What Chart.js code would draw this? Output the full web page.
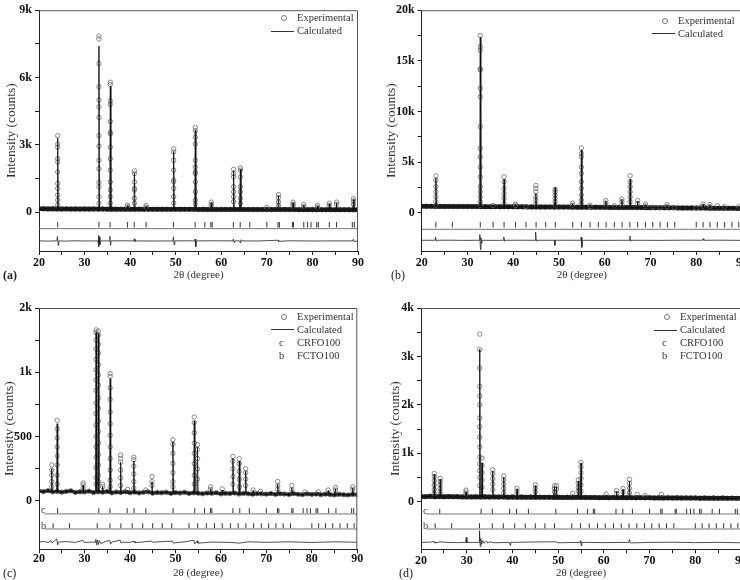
<!DOCTYPE html>
<html>
<head>
<meta charset="utf-8">
<script src="https://cdn.jsdelivr.net/npm/chart.js@4.4.1/dist/chart.umd.min.js"></script>
<style>
  html, body { margin: 0; padding: 0; background: #fff; overflow: hidden; }
  body { width: 740px; height: 580px; position: relative; font-family: 'Liberation Serif', serif; }
  .panel { position: absolute; width: 370px; height: 290px; }
  .wide { width: 390px; }
  .tag { position: absolute; font-size: 12px; color: #222; line-height: 14px; }
  .legend { position: absolute; font-size: 10.5px; color: #333; }
  .legend div { position: relative; height: 13px; line-height: 13px; padding-left: 27px; white-space: nowrap; }
  .legend .dot { position: absolute; left: 11px; top: 4px; width: 4px; height: 4px; border: 0.8px solid #777; border-radius: 50%; }
  .legend .ln { position: absolute; left: 1px; top: 6.5px; width: 23px; border-top: 1px solid #333; }
  .legend .let { position: absolute; left: 9px; top: 0; }
</style>
</head>
<body>
<div class="panel" style="left:0;top:0"><canvas id="ca"></canvas></div>
<div class="panel wide" style="left:370px;top:0"><canvas id="cb"></canvas></div>
<div class="panel" style="left:0;top:290px"><canvas id="cc"></canvas></div>
<div class="panel wide" style="left:370px;top:290px"><canvas id="cd"></canvas></div>

<div class="tag" style="left:3px;top:268px;font-weight:bold">(a)</div>
<div class="tag" style="left:391px;top:268px">(b)</div>
<div class="tag" style="left:3px;top:566px">(c)</div>
<div class="tag" style="left:399px;top:566px">(d)</div>

<div class="legend" style="left:270px;top:11px">
  <div><span class="dot"></span>Experimental</div>
  <div><span class="ln"></span>Calculated</div>
</div>
<div class="legend" style="left:651px;top:13.5px">
  <div><span class="dot"></span>Experimental</div>
  <div><span class="ln"></span>Calculated</div>
</div>
<div class="legend" style="left:270px;top:309.5px">
  <div><span class="dot"></span>Experimental</div>
  <div><span class="ln"></span>Calculated</div>
  <div><span class="let">c</span>CRFO100</div>
  <div><span class="let">b</span>FCTO100</div>
</div>
<div class="legend" style="left:653px;top:310px">
  <div><span class="dot"></span>Experimental</div>
  <div><span class="ln"></span>Calculated</div>
  <div><span class="let">c</span>CRFO100</div>
  <div><span class="let">b</span>FCTO100</div>
</div>

<script>
// x axis ticks
const xTicks = [20, 25, 30, 35, 40, 45, 50, 55, 60, 65, 70, 75, 80, 85, 90];
const xLabels = ['20', '', '30', '', '40', '', '50', '', '60', '', '70', '', '80', '', '90'];

// background samples, one per degree 20..90
const degs = [];
for (let d = 20; d <= 90; d++) degs.push(d);

const bgA = [150,148,146,150,145,142,144,140,142,138,
             140,137,139,136,138,134,136,133,135,132,
             134,131,133,130,132,129,131,128,130,127,
             129,126,128,125,127,124,126,123,125,122,
             124,121,123,120,122,119,121,118,120,117,
             119,116,118,115,117,114,116,113,115,112,
             114,111,113,110,112,109,111,108,110,107,109];
const bgB = [640,630,635,625,628,620,622,615,618,610,
             612,605,608,600,603,596,598,590,594,588,
             585,580,583,575,578,570,572,566,568,560,
             562,555,558,550,552,545,548,540,542,535,
             530,525,528,520,515,518,510,505,508,500,
             495,490,493,485,480,484,476,470,473,466,
             460,455,458,450,445,448,440,436,438,430,425];
const bgC = [78,72,80,70,75,68,74,79,66,72,
             70,76,65,71,68,74,63,70,66,72,
             64,69,62,67,71,60,66,63,68,59,
             65,61,67,58,63,60,56,62,59,64,
             55,60,57,62,54,59,56,52,58,55,
             53,58,51,56,54,50,57,52,49,55,
             51,54,48,53,50,47,52,49,46,51,48];
const bgD = [108,104,110,102,106,100,105,101,103,99,
             102,98,101,97,100,96,99,95,98,94,
             97,93,96,92,95,91,94,90,93,89,
             92,88,91,87,90,86,89,85,88,84,
             87,83,86,82,85,81,84,80,83,79,
             82,78,81,77,80,76,79,75,78,74,
             77,73,76,72,75,71,74,70,73,69,72];

// peaks: [2theta, calculated top, experimental points down the peak]
const peaksA = [
  [24.1, 3300, [3410,3040,2900,2380,2240,1790,1280,1060,760,540,320]],
  [33.15, 7400, [7850,7720,6620,5590,4990,4690,4220,3410,2940,2310,1940,1320,1130,690,400]],
  [35.65, 5600, [5790,5690,4960,4810,4040,3560,3490,2900,2380,1870,1350,990,690,400]],
  [39.4, 290, [320,250]],
  [40.95, 1750, [1840,1720,1350,1060,990,620,400]],
  [43.5, 260, [290,220]],
  [49.55, 2700, [2820,2680,2310,1870,1430,1350,1060,690,400]],
  [54.3, 3650, [3780,3630,3340,3040,2310,2010,1790,1720,1350,910,540,370]],
  [57.8, 420, [450,350,250]],
  [62.7, 1850, [1910,1720,1570,1130,910,690,470]],
  [64.2, 1900, [1970,1870,1570,1130,910,620,400]],
  [70.0, 190, [210]],
  [72.55, 730, [780,650,450,300]],
  [75.75, 420, [450,350,250]],
  [78.1, 320, [350,250]],
  [81.1, 280, [300,220]],
  [83.7, 370, [400,300]],
  [85.3, 420, [450,350]],
  [89.0, 560, [600,500,350]]
];
const peaksB = [
  [23.1, 3400, [3650,3220,2570,2070,1580,1090,760]],
  [32.8, 17300, [17500,16400,16050,14200,14100,12300,11450,8500,6350,5500,4500,3550,2550,2070,1580,1090,760]],
  [35.6, 700, [720]],
  [38.0, 3300, [3550,3060,2400,1900,1410,920]],
  [40.5, 800, [850,700]],
  [42.8, 600, [620]],
  [44.95, 1900, [2700,2400,2070,1580,1250,850]],
  [49.15, 2500, [2300,2070,1740,1410,1090,760]],
  [52.95, 900, [950,750]],
  [54.9, 6200, [6400,5860,5500,4500,3880,3060,2400,1740,1250,850]],
  [56.8, 700, [750,600]],
  [60.25, 1150, [1200,950,700]],
  [62.1, 650, [700]],
  [63.75, 1300, [1350,1100,800]],
  [65.55, 3300, [3650,3060,2570,2070,1580,1090]],
  [67.2, 1150, [1200,900]],
  [68.9, 800, [850,650]],
  [70.5, 520, [550]],
  [72.1, 480, [500]],
  [73.6, 760, [800,600]],
  [75.3, 480, [500]],
  [80.0, 430, [450]],
  [81.5, 820, [850,650]],
  [83.0, 760, [800,600]],
  [84.6, 650, [700]],
  [86.2, 570, [600]],
  [89.3, 570, [600]]
];
const peaksC = [
  [22.8, 250, [280,240,200,150,110]],
  [24.0, 600, [627,560,490,420,350,280,200,130]],
  [29.7, 120, [140,125,100]],
  [32.55, 1310, [1330,1310,1250,1180,1100,1020,940,860,760,680,590,500,420,340,260,180,130]],
  [33.05, 1300, [1320,1290,1220,1150,1060,980,900,800,720,620,540,450,360,280,200,150]],
  [34.0, 110, [130,110]],
  [35.65, 950, [990,970,880,790,690,600,510,420,330,240,160,110]],
  [37.95, 300, [356,330,300,240,180,120]],
  [39.5, 85, [90]],
  [40.85, 310, [340,320,270,210,150,100]],
  [43.5, 80, [85]],
  [44.85, 150, [190,150,120]],
  [49.45, 460, [476,440,370,290,220,150,110]],
  [54.15, 620, [653,610,530,450,370,290,200,130]],
  [54.85, 420, [437,400,330,250,170]],
  [57.75, 95, [109,90]],
  [60.3, 85, [94]],
  [62.65, 330, [346,310,250,190,130]],
  [64.05, 310, [328,290,230,170,110]],
  [65.45, 230, [250,220,170,120]],
  [67.1, 80, [85]],
  [68.7, 70, [75]],
  [72.5, 130, [151,120,90]],
  [75.6, 100, [120,90]],
  [78.5, 65, [70]],
  [81.4, 65, [72]],
  [83.6, 80, [85]],
  [85.2, 95, [105,85]],
  [89.0, 100, [110,90]]
];
const peaksD = [
  [22.9, 560, [585,520,430,340,250,170]],
  [24.2, 460, [480,420,350,270,190]],
  [29.85, 200, [240,200,160]],
  [32.85, 3150, [3460,3140,2760,2380,2180,2000,1730,1550,1330,1130,920,780,640,500,330]],
  [33.35, 800, [900,750,600,450,300]],
  [35.7, 630, [660,580,470,360,250]],
  [38.1, 500, [530,450,360,270,180]],
  [41.0, 260, [280,220,160]],
  [45.0, 330, [350,280,200]],
  [49.2, 310, [330,270,200]],
  [49.65, 300, [330,260]],
  [53.2, 150, [170]],
  [54.4, 420, [450,380,300,220]],
  [55.0, 800, [810,720,600,480,350,220]],
  [60.5, 140, [160]],
  [62.8, 210, [230,170]],
  [64.2, 250, [270,200]],
  [65.6, 420, [460,380,280,180]],
  [67.3, 130, [150]],
  [69.0, 120, [130]],
  [72.6, 130, [150]]
];

// Bragg positions
const braggCRFO = [24.1, 33.15, 35.6, 39.4, 40.9, 43.5, 49.5, 54.25, 56.4, 57.7, 58.0, 62.65, 64.15, 66.25,
                   70.0, 72.45, 72.75, 75.6, 75.85, 78.1, 78.95, 79.7, 80.95, 81.3, 83.7, 85.3, 88.75, 89.2];
const braggFCTO = [23.1, 26.7, 32.8, 35.6, 38.0, 40.5, 42.8, 45.0, 47.1, 49.2, 53.0, 54.9, 56.8, 58.6, 60.3,
                   62.1, 63.8, 65.5, 67.2, 68.9, 70.5, 72.1, 73.7, 75.3, 80.0, 81.5, 83.0, 84.6, 86.2, 87.8, 89.3];

// difference curves (obs - calc, offset)
const diffA = [[20,-1280],[22,-1290],[23.9,-1275],[24.05,-1080],[24.2,-1480],[24.35,-1280],[26,-1290],[28,-1275],
  [30,-1285],[32.95,-1280],[33.05,-1030],[33.15,-1540],[33.25,-1100],[33.35,-1450],[33.5,-1280],[35.45,-1280],
  [35.55,-1080],[35.7,-1480],[35.85,-1280],[38,-1275],[40.8,-1280],[40.9,-1190],[41.05,-1310],[41.2,-1280],[45,-1285],
  [49.4,-1280],[49.5,-1100],[49.65,-1450],[49.8,-1280],[52,-1275],[54.15,-1280],[54.25,-1200],[54.4,-1540],[54.55,-1280],
  [58,-1275],[62.55,-1280],[62.65,-1200],[62.8,-1350],[62.95,-1280],[64.05,-1280],[64.15,-1360],[64.3,-1230],
  [64.45,-1280],[68,-1285],[72.5,-1250],[72.6,-1300],[75,-1275],[80,-1285],[85,-1280],[88.9,-1280],[89.0,-1200],
  [89.15,-1310],[90,-1280]];
const diffB = [[20,-2720],[22.9,-2720],[23.05,-2420],[23.2,-2820],[23.35,-2720],[26,-2710],[29,-2730],[32.6,-2720],
  [32.7,-2150],[32.85,-3650],[32.95,-2450],[33.1,-3050],[33.25,-2720],[36,-2730],[37.85,-2720],[37.95,-2400],[38.1,-2820],
  [38.25,-2720],[42,-2715],[44.8,-2720],[44.9,-1920],[45.05,-2820],[45.2,-2720],[48.95,-2720],[49.1,-3220],[49.25,-2680],
  [49.4,-2720],[52,-2715],[54.75,-2720],[54.85,-2420],[55.0,-3420],[55.15,-2720],[60,-2730],[65.4,-2720],[65.5,-2300],
  [65.65,-2820],[65.8,-2720],[72,-2730],[78,-2710],[81.35,-2720],[81.5,-2570],[81.65,-2720],[85,-2710],[90,-2730]];
const diffC = [[20,-320],[21,-315],[22,-323],[22.7,-310],[22.9,-327],[23.9,-295],[24.1,-342],[24.3,-320],[26,-316],
  [28,-323],[29.6,-305],[29.9,-322],[32.4,-320],[32.5,-300],[32.65,-342],[32.85,-305],[33.05,-340],[33.25,-308],
  [33.6,-332],[34.5,-318],[35.55,-306],[35.75,-336],[36,-320],[37.85,-305],[38.05,-328],[38.3,-320],[40,-322],
  [40.9,-313],[41.1,-325],[44.8,-312],[45,-321],[49.35,-312],[49.55,-327],[52,-318],[54.05,-305],[54.25,-333],
  [54.75,-310],[54.95,-328],[58,-320],[62,-322],[64,-328],[66,-318],[70,-322],[75,-318],[80,-323],[85,-318],[90,-321]];
const diffD = [[20,-840],[22,-835],[22.85,-825],[23.05,-852],[24.15,-830],[26,-842],[28,-845],[29.75,-840],[29.9,-740],
  [30.05,-852],[30.25,-840],[32.7,-840],[32.8,-600],[32.95,-925],[33.1,-760],[33.25,-880],[33.5,-805],[33.8,-860],
  [34.3,-810],[34.6,-855],[35,-830],[36,-848],[39.35,-840],[39.5,-900],[39.65,-840],[42,-837],[45,-832],[49.4,-828],
  [50,-848],[54.85,-840],[54.95,-805],[55.05,-910],[55.2,-840],[60,-845],[65.45,-840],[65.6,-780],[65.75,-852],
  [70,-840],[75,-837],[80,-845],[85,-840],[90,-848]];

// y axis ticks
const yTicksA = [0, 1500, 3000, 4500, 6000, 7500, 9000];
const yLabelsA = ['0', '', '3k', '', '6k', '', '9k'];
const yTicksB = [0, 2500, 5000, 7500, 10000, 12500, 15000, 17500, 20000];
const yLabelsB = ['0', '', '5k', '', '10k', '', '15k', '', '20k'];
const yTicksC = [0, 250, 500, 750, 1000, 1250, 1500];
const yLabelsC = ['0', '', '500', '', '1k', '', '2k'];
const yTicksD = [0, 500, 1000, 1500, 2000, 2500, 3000, 3500, 4000];
const yLabelsD = ['0', '', '1k', '', '2k', '', '3k', '', '4k'];

Chart.defaults.font.family = "'Liberation Serif', serif";

function peakPoints(peaks) {
  const pts = [];
  peaks.forEach(p => p[2].forEach(h => pts.push({x: p[0], y: h})));
  return pts;
}

function calcLine(bg, peaks) {
  const pts = [];
  degs.forEach((d, i) => {
    if (!peaks.some(p => Math.abs(p[0] - d) < 0.2)) pts.push({x: d, y: bg[i]});
  });
  peaks.forEach(p => {
    const b = bg[Math.round(p[0]) - 20];
    pts.push({x: p[0] - 0.12, y: b}, {x: p[0], y: p[1]}, {x: p[0] + 0.12, y: b});
  });
  return pts.sort((a, b) => a.x - b.x);
}

const framePlugin = {
  id: 'frame',
  afterDraw(chart, args, opts) {
    const {ctx, chartArea: a, scales} = chart;
    ctx.save();
    ctx.strokeStyle = '#555';
    ctx.lineWidth = 1;
    ctx.beginPath();
    ctx.moveTo(a.left, a.top + 0.5);
    ctx.lineTo(a.right - 0.5, a.top + 0.5);
    ctx.lineTo(a.right - 0.5, a.bottom);
    ctx.stroke();
    ctx.fillStyle = '#444';
    ctx.font = "10.5px 'Liberation Serif'";
    ctx.textBaseline = 'middle';
    (opts.tags || []).forEach(t => {
      ctx.fillText(t.text, a.left + 2, scales.y.getPixelForValue(t.y));
    });
    ctx.restore();
  }
};

function panel(id, o) {
  const tickFont = {size: 12, weight: 'bold'};
  const bgPts = degs.map((d, i) => ({x: d, y: o.bg[i]}));
  const datasets = [
    {data: calcLine(o.bg, o.peaks), showLine: true, borderColor: '#111', borderWidth: 0.9, pointRadius: 0},
    {data: peakPoints(o.peaks), showLine: false, pointStyle: 'circle', pointRadius: 2.2,
     borderColor: '#6e6e6e', borderWidth: 0.8, backgroundColor: 'rgba(0,0,0,0)'},
    {data: bgPts, showLine: false, pointStyle: 'circle', pointRadius: 2.2,
     borderColor: o.bgRing, borderWidth: 0.8, backgroundColor: 'rgba(0,0,0,0)'},
    {data: bgPts, showLine: true, borderColor: '#1a1a1a', borderWidth: o.band, pointRadius: 0}
  ];
  const tags = [];
  o.rows.forEach(r => {
    datasets.push({data: r.pos.map(p => ({x: p, y: r.tickY})), showLine: false, pointStyle: 'line',
      rotation: 90, pointRadius: o.tickR, borderColor: '#333', borderWidth: 1});
    datasets.push({data: [{x: r.start, y: r.lineY}, {x: 90, y: r.lineY}], showLine: true,
      borderColor: '#777', borderWidth: 1, pointRadius: 0});
    if (r.tag) tags.push({text: r.tag, y: r.tickY});
  });
  datasets.push({data: o.diff.map(p => ({x: p[0], y: p[1]})), showLine: true, borderColor: '#222',
    borderWidth: 0.8, pointRadius: 0});

  new Chart(document.getElementById(id), {
    type: 'scatter',
    data: {datasets},
    options: {
      responsive: true,
      maintainAspectRatio: false,
      animation: false,
      layout: {padding: {top: o.padTop, right: o.padRight, left: 0, bottom: 0}},
      plugins: {legend: {display: false}, tooltip: {enabled: false}, frame: {tags}},
      scales: {
        x: {
          min: 20, max: 90,
          afterBuildTicks: s => { s.ticks = xTicks.map(v => ({value: v})); },
          afterFit: s => { s.height = o.xH; },
          ticks: {callback: v => xLabels[xTicks.indexOf(v)], font: tickFont, color: '#111',
                  padding: o.xTickPad, autoSkip: false, maxRotation: 0},
          grid: {drawOnChartArea: false, tickLength: 4, color: '#222'},
          border: {color: '#222', width: 1},
          title: {display: true, text: '2θ (degree)', font: {size: 11}, color: '#333',
                  padding: {top: 0, bottom: o.xTitlePad}}
        },
        y: {
          min: o.yMin, max: o.yMax,
          afterBuildTicks: s => { s.ticks = o.yTicks.map(v => ({value: v})); },
          afterFit: s => { s.width = o.yW; },
          ticks: {callback: v => o.yLabels[o.yTicks.indexOf(v)], font: tickFont, color: '#111',
                  padding: 3, autoSkip: false},
          grid: {drawOnChartArea: false, tickLength: 4, color: '#222'},
          border: {color: '#222', width: 1},
          title: {display: true, text: 'Intensity (counts)', font: {size: 13.5}, color: '#333',
                  padding: {top: o.yTitlePad, bottom: 0}}
        }
      }
    },
    plugins: [framePlugin]
  });
}

panel('ca', {bg: bgA, peaks: peaksA, diff: diffA, yMin: -1730, yMax: 9000, yTicks: yTicksA, yLabels: yLabelsA,
  rows: [{pos: braggCRFO, tickY: -560, lineY: -735, start: 20}], tickR: 2.8, band: 4.5, bgRing: '#222',
  yW: 39, xH: 39, padTop: 7.5, padRight: 12, yTitlePad: 3.6, xTitlePad: 8.4, xTickPad: 1});
panel('cb', {bg: bgB, peaks: peaksB, diff: diffB, yMin: -3779, yMax: 20000, yTicks: yTicksB, yLabels: yLabelsB,
  rows: [{pos: braggFCTO, tickY: -1184, lineY: -1638, start: 20}], tickR: 2.8, band: 4.5, bgRing: '#222',
  yW: 51.7, xH: 39, padTop: 10, padRight: 18, yTitlePad: 13.6, xTitlePad: 8.4, xTickPad: 1});
panel('cc', {bg: bgC, peaks: peaksC, diff: diffC, yMin: -376, yMax: 1500, yTicks: yTicksC, yLabels: yLabelsC,
  rows: [{pos: braggCRFO, tickY: -76, lineY: -101, start: 21.2, tag: 'c'},
         {pos: braggFCTO, tickY: -193, lineY: -218, start: 21.2, tag: 'b'}], tickR: 2.5, band: 3.5, bgRing: '#555',
  yW: 39, xH: 30.7, padTop: 18, padRight: 12.7, yTitlePad: 1.2, xTitlePad: 0, xTickPad: -2});
panel('cd', {bg: bgD, peaks: peaksD, diff: diffD, yMin: -983, yMax: 4000, yTicks: yTicksD, yLabels: yLabelsD,
  rows: [{pos: braggCRFO, tickY: -198, lineY: -254, start: 21.2, tag: 'c'},
         {pos: braggFCTO, tickY: -498, lineY: -564, start: 21.2, tag: 'b'}], tickR: 2.5, band: 4.5, bgRing: '#222',
  yW: 51, xH: 30.7, padTop: 18, padRight: 19, yTitlePad: 16.9, xTitlePad: 0, xTickPad: 0.5});
</script>
</body>
</html>
